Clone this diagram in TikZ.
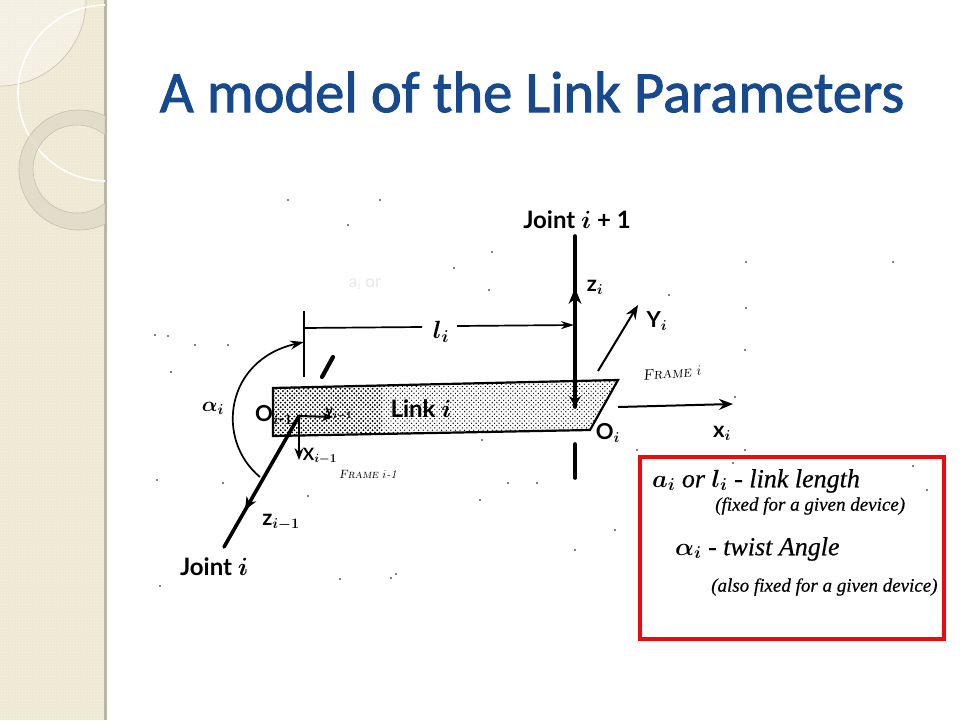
\documentclass[tikz,border=0pt]{standalone}
\usepackage{amsmath, amssymb}
\usepackage{fontspec}
\newfontfamily\titlefont{Carlito}[FakeBold=1.6]
\newfontfamily\labelfont{Lato}
\newfontfamily\handfont{Liberation Serif}[ItalicFeatures={FakeBold=0.5}]
\usetikzlibrary{arrows.meta, patterns, calc}
\definecolor{titleblue}{HTML}{17498F}
\definecolor{sidebg}{HTML}{EEE9D3}
\definecolor{sidedot}{HTML}{F6F3E6}
\definecolor{ringgrey}{HTML}{DEDAC6}
\definecolor{boxred}{HTML}{EE0A0A}
\pgfdeclarepatternformonly{coarsedots}{\pgfqpoint{-1pt}{-1pt}}{\pgfqpoint{5.6pt}{5.6pt}}{\pgfqpoint{4.6pt}{4.6pt}}{%
  \pgfpathcircle{\pgfqpoint{0pt}{0pt}}{.95pt}\pgfpathcircle{\pgfqpoint{2.3pt}{2.3pt}}{.95pt}\pgfusepath{fill}}
\pgfdeclarepatternformonly{finedots}{\pgfqpoint{-1pt}{-1pt}}{\pgfqpoint{5.6pt}{5.6pt}}{\pgfqpoint{4.6pt}{4.6pt}}{%
  \pgfpathcircle{\pgfqpoint{0pt}{0pt}}{.7pt}\pgfpathcircle{\pgfqpoint{2.3pt}{2.3pt}}{.7pt}\pgfusepath{fill}}
\tikzset{
  axis/.style={line width=2pt, -{Stealth[length=14pt,width=11pt]}},
  thickaxis/.style={line width=3.6pt, line cap=round},
  dimline/.style={line width=1.7pt},
  printlabel/.style={font=\labelfont\bfseries\boldmath\fontsize{24}{26}\selectfont, inner sep=0pt},
  axislabel/.style={font=\labelfont\bfseries\boldmath\fontsize{22}{24}\selectfont, inner sep=0pt},
  smalllabel/.style={font=\itshape\fontsize{15}{17}\selectfont, inner sep=0pt},
  handline/.style={font=\handfont\itshape\boldmath\fontsize{26}{28}\selectfont, inner sep=0pt, anchor=west},
  handsmall/.style={handline, font=\handfont\itshape\boldmath\fontsize{19}{22}\selectfont}
}
\begin{document}
\begin{tikzpicture}[x=1pt, y=-1pt]
\useasboundingbox (0,0) rectangle (960,720);
\fill[white] (0,0) rectangle (960,720);

% Side band
\fill[sidebg] (0,0) rectangle (105,720);
\fill[pattern=crosshatch dots, pattern color=sidedot] (0,0) rectangle (105,720);
\fill[black!22!sidebg] (104,0) rectangle (107,720);
\begin{scope}
\clip (0,0) rectangle (105,720);
\fill[white, opacity=.35] (0,0) -- (0,86) .. controls (47.5,86) and (86,47.5) .. (86,0) -- cycle;
\draw[black!15!sidebg, line width=.7pt] (0,86) .. controls (47.5,86) and (86,47.5) .. (86,0);
\draw[white, line width=1.6pt] (106,93) circle[radius=88];
\fill[ringgrey, opacity=.8, even odd rule] (79,170) circle[radius=60] (77,169) circle[radius=44];
\draw[black!12!ringgrey, line width=.6pt] (79,170) circle[radius=60] (77,169) circle[radius=44];
\end{scope}

% Title
\node (title) at (532,92) {\titlefont\fontsize{58.5}{60}\selectfont\color{titleblue}A model of the Link Parameters};

% Link plate
\coordinate (plateA) at (273,388);
\coordinate (plateB) at (618,380);
\coordinate (plateC) at (590,430);
\coordinate (plateD) at (273,436);
\fill[pattern=finedots] (plateA) -- (plateB) -- (plateC) -- (plateD) -- cycle;
\begin{scope}
\clip (273,380) rectangle (382,436);
\fill[pattern=coarsedots] (plateA) -- (plateB) -- (plateC) -- (plateD) -- cycle;
\end{scope}
\draw[line width=2.2pt] (plateA) -- (plateB) -- (plateC) -- (plateD) -- cycle;

% Base nodes
\node (JointNext) [printlabel] at (577,220) {Joint $i$ + 1};
\node (JointPrev) [printlabel] at (214,567) {Joint $i$};
\node (Link) [printlabel] at (421,409) {Link $i$};
\node (Faint) [font=\labelfont\fontsize{17}{19}\selectfont, text=black!9, inner sep=0pt] at (365,284) {a$_{\mathrm{i}}$ or};
\node (Alpha) [inner sep=0pt, font=\boldmath\fontsize{22}{24}\selectfont] at (213,408) {$\alpha_i$};
\node (LenLabel) [inner sep=0pt, font=\boldmath\fontsize{24}{26}\selectfont] at (441,332) {$l_i$};
\node (OPrev) [axislabel] at (274,415) {O$_{i\text{-}1}$};
\node (ONext) [axislabel] at (608,433) {O$_i$};
\node (ZNext) [axislabel] at (595,287) {z$_i$};
\node (YNext) [axislabel] at (657,321) {Y$_i$};
\node (XNext) [axislabel] at (722,433) {x$_i$};
\node (ZPrev) [axislabel] at (281,522) {z$_{i-1}$};
\node (XPrev) [axislabel, font=\labelfont\bfseries\boldmath\fontsize{17}{19}\selectfont] at (320,456) {X$_{i-1}$};
\node (YPrev) [axislabel, font=\labelfont\bfseries\boldmath\fontsize{14}{16}\selectfont] at (339,414) {y$_{i-1}$};
\node (FrameNext) [smalllabel, rotate=5] at (672,373) {\textsc{Frame} $i$};
\node (FramePrev) [smalllabel, font=\itshape\fontsize{12}{14}\selectfont] at (368,474) {\textsc{Frame} $i$-1};

% Free ends
\coordinate (zTop) at (575,236);
\coordinate (zMid) at (575,288);
\coordinate (zBase) at (575,407);
\coordinate (stubLow) at (575,444);
\coordinate (stubEnd) at (575,478);
\coordinate (origin) at (299,416);
\coordinate (zMark) at (245,510);
\coordinate (zEnd) at (224,547);
\coordinate (tickTop) at (304,311);
\coordinate (tickLow) at (304,377);
\coordinate (tickArc) at (304,342);
\coordinate (dimLeft) at (304,328);
\coordinate (dimRight) at (422,327);
\coordinate (dimStart) at (457,326);
\coordinate (dimStop) at (574,325);
\coordinate (arcEnd) at (260,477);
\coordinate (slashA) at (322,377);
\coordinate (slashB) at (333,357);
\coordinate (yStart) at (598,371);
\coordinate (yEnd) at (638,305);
\coordinate (xStart) at (618,407);
\coordinate (xEnd) at (733,404);

% Arrows
\draw[thickaxis] (zTop) -- (zBase);
\draw[-{Stealth[length=16pt,width=13pt]}, line width=1pt] (575,306) -- (zMid);
\draw[-{Stealth[length=11pt,width=12pt]}, line width=1pt] (575,394) -- (zBase);
\draw[thickaxis] (stubLow) -- (stubEnd);
\draw[thickaxis] (origin) -- (zEnd);
\draw[-{Stealth[length=13pt,width=11pt]}, line width=1pt] ($(zMark)!-.4!(zEnd)$) -- (zMark);
\draw[axis] (yStart) -- (yEnd);
\draw[axis] (xStart) -- (xEnd);
\draw[axis, -{Stealth[length=11pt,width=9pt]}] (origin) -- (333,417);
\draw[axis, line width=1.3pt, -{Stealth[length=12pt,width=9pt]}] (origin) -- (299,460);
\draw[line width=4.2pt, line cap=round] (slashA) -- (slashB);

% Dimension and twist angle
\draw[dimline] (tickTop) -- (tickLow);
\draw[dimline] (dimLeft) -- (dimRight);
\draw[dimline, -{Stealth[length=13pt,width=8pt]}] (dimStart) -- (dimStop);
\draw[dimline, -{Stealth[length=14pt,width=9pt]}] (arcEnd) .. controls (215,440) and (225,360) .. (tickArc);

% Specks of the scan
\foreach \px/\py in {288/200,380/200,348/225,155/335,168/336,228/345,171/372,195/345,157/480,223/483,308/496,391/578,340/579,396/574,160/586,246/570,
  492/252,454/268,489/290,669/295,746/262,746/308,745/350,893/262,735/397,745/450,637/450,482/440,508/483,537/483,575/550,615/530,480/500,927/490,913/466,733/463} {
  \fill (\px,\py) circle[radius=.9];
}

% Note box
\node (Note) [draw=boxred, line width=3.6pt, minimum width=304pt, minimum height=182pt, inner sep=0pt] at (792,548) {};
\node (NoteLen) [handline] at (652,481) {$a_i$ or $l_i$ - link length};
\node (NoteFix) [handsmall] at (715,506) {(fixed for a given device)};
\node (NoteAng) [handline] at (675,549) {$\alpha_i$ - twist Angle};
\node (NoteAlso) [handsmall] at (711,587) {(also fixed for a given device)};
\end{tikzpicture}
\end{document}
